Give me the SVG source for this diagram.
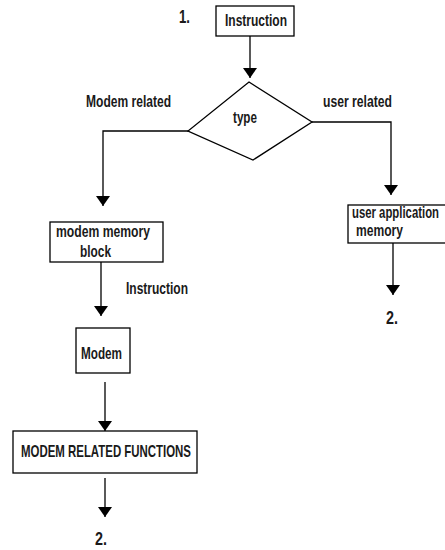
<svg xmlns="http://www.w3.org/2000/svg" width="445" height="550" viewBox="0 0 445 550">
<defs>
<marker id="ah" viewBox="0 0 10 14" refX="10" refY="7" markerWidth="10" markerHeight="14" markerUnits="userSpaceOnUse" orient="auto">
<path d="M0,0 L10,7 L0,14 Z" fill="#000"/>
</marker>
<style>
.box{fill:#fff;stroke:#000;stroke-width:1.3}
.ar{fill:none;stroke:#000;stroke-width:1.3;marker-end:url(#ah)}
text{font-family:"Liberation Sans",Arial,sans-serif;font-size:17px;fill:#1a1a1a;font-weight:bold}
.num{font-size:18px}
</style>
</defs>
<rect width="445" height="550" fill="#fff"/>
<g id="connectors">
<line class="ar" x1="250" y1="36" x2="250" y2="78"/>
<polyline class="ar" points="188,131 103,131 103,206"/>
<polyline class="ar" points="312,122 391,122 391,195"/>
<line class="ar" x1="101" y1="262" x2="101" y2="316"/>
<line class="ar" x1="393" y1="243" x2="393" y2="295"/>
<line class="ar" x1="105" y1="382" x2="105" y2="431"/>
<line class="ar" x1="105" y1="478" x2="105" y2="517"/>
</g>
<g id="label-1"><text class="num" x="179" y="23" textLength="11" lengthAdjust="spacingAndGlyphs">1.</text></g>
<g id="instruction"><rect class="box" x="216" y="6" width="78" height="30"/><text x="225" y="26" textLength="62" lengthAdjust="spacingAndGlyphs">Instruction</text></g>
<g id="type"><polygon class="box" points="249,82 312,122 253,160 188,131"/><text x="233" y="123" textLength="24" lengthAdjust="spacingAndGlyphs">type</text></g>
<g id="label-modem-related"><text x="86" y="107" textLength="85" lengthAdjust="spacingAndGlyphs">Modem related</text></g>
<g id="label-user-related"><text x="323" y="107" textLength="69" lengthAdjust="spacingAndGlyphs">user related</text></g>
<g id="modem-memory"><rect class="box" x="50" y="222" width="113" height="40"/><text x="56" y="237" textLength="94" lengthAdjust="spacingAndGlyphs">modem memory</text><text x="80" y="257" textLength="31" lengthAdjust="spacingAndGlyphs">block</text></g>
<g id="label-instruction"><text x="126" y="294" textLength="62" lengthAdjust="spacingAndGlyphs">Instruction</text></g>
<g id="user-app"><rect class="box" x="348" y="205" width="110" height="38"/><text x="352" y="218" textLength="87" lengthAdjust="spacingAndGlyphs">user application</text><text x="356" y="236" textLength="47" lengthAdjust="spacingAndGlyphs">memory</text></g>
<g id="label-2-right"><text class="num" x="386" y="324" textLength="12" lengthAdjust="spacingAndGlyphs">2.</text></g>
<g id="modem"><rect class="box" x="76" y="328" width="54" height="45"/><text x="81" y="359" textLength="41" lengthAdjust="spacingAndGlyphs">Modem</text></g>
<g id="mrf"><rect class="box" x="13" y="431" width="184" height="42"/><text x="21" y="457" textLength="170" lengthAdjust="spacingAndGlyphs">MODEM RELATED FUNCTIONS</text></g>
<g id="label-2-left"><text class="num" x="95" y="545" textLength="12" lengthAdjust="spacingAndGlyphs">2.</text></g>
</svg>
